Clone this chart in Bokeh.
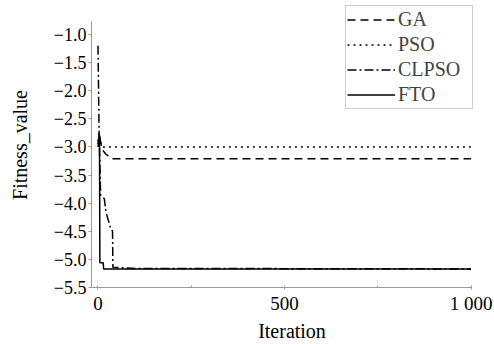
from bokeh.plotting import figure
from bokeh.models import Range1d, FixedTicker, Legend, LegendItem
from bokeh.embed import file_html
from bokeh.resources import INLINE

# Data
ga_x = [0, 4, 10, 20, 37, 1000]
ga_y = [-2.95, -2.78, -3.03, -3.12, -3.21, -3.21]

pso_x = [0, 3, 10, 1000]
pso_y = [-2.9, -2.75, -3.0, -3.0]

clpso_x = [0, 3, 7, 17, 21, 34, 39, 40, 100, 1000]
clpso_y = [-1.2, -2.75, -3.85, -3.92, -4.15, -4.45, -4.5, -5.14, -5.16, -5.17]

fto_x = [0, 4, 5, 14, 15, 1000]
fto_y = [-3.0, -2.78, -5.06, -5.06, -5.17, -5.17]

x_ticks = [0, 500, 1000]
x_minor_ticks = [250, 750]
x_tick_labels = {1000: "1 000"}
y_ticks = [-1.0, -1.5, -2.0, -2.5, -3.0, -3.5, -4.0, -4.5, -5.0, -5.5]
y_tick_labels = {t: ("%.1f" % t).replace("-", "\u2212") for t in y_ticks}

FONT = "Liberation Serif"

p = figure(width=494, height=344, output_backend="svg", toolbar_location=None,
           x_range=Range1d(-17.4, 1057.6), y_range=Range1d(-5.5, -0.43),
           min_border_left=91, min_border_right=2, min_border_top=2, min_border_bottom=57)
p.outline_line_color = None
p.xgrid.visible = False
p.ygrid.visible = False
p.background_fill_color = "white"

r_ga = p.line(ga_x, ga_y, line_color="black", line_width=1.5, line_dash="8 5")
r_pso = p.line(pso_x, pso_y, line_color="black", line_width=1.5, line_dash="2 4")
r_cl = p.line(clpso_x, clpso_y, line_color="black", line_width=1.5, line_dash="9 3 2 3")
r_fto = p.line(fto_x, fto_y, line_color="black", line_width=1.5)

for ax in (p.xaxis[0], p.yaxis[0]):
    ax.axis_line_color = "#9a9a9a"
    ax.major_tick_line_color = "#9a9a9a"
    ax.minor_tick_line_color = "#9a9a9a"
    ax.major_label_text_font = FONT
    ax.major_label_text_color = "black"
    ax.axis_label_text_font = FONT
    ax.axis_label_text_font_size = "20px"
    ax.axis_label_text_font_style = "normal"
    ax.axis_label_text_color = "black"

p.xaxis.bounds = (-17.4, 1000)
p.xaxis.ticker = FixedTicker(ticks=x_ticks, minor_ticks=x_minor_ticks)
p.xaxis.major_label_overrides = x_tick_labels
p.xaxis.major_label_text_font_size = "19px"
p.xaxis.axis_label = "Iteration"
p.xaxis.major_tick_in = 2
p.xaxis.major_tick_out = 2
p.xaxis.minor_tick_in = 2
p.xaxis.minor_tick_out = 0
p.xaxis.major_label_standoff = 3
p.xaxis.axis_label_standoff = 3

p.yaxis.bounds = (-5.5, -0.76)
p.yaxis.ticker = FixedTicker(ticks=y_ticks, minor_ticks=[])
p.yaxis.major_label_overrides = y_tick_labels
p.yaxis.major_label_text_font_size = "18px"
p.yaxis.axis_label = "Fitness_value"
p.yaxis.major_tick_in = 0
p.yaxis.major_tick_out = 3
p.yaxis.major_label_standoff = 2
p.yaxis.axis_label_standoff = 20

legend = Legend(items=[
    LegendItem(label="GA", renderers=[r_ga]),
    LegendItem(label="PSO", renderers=[r_pso]),
    LegendItem(label="CLPSO", renderers=[r_cl]),
    LegendItem(label="FTO", renderers=[r_fto]),
], location=(254, 178))
legend.label_text_font = FONT
legend.label_text_font_size = "20px"
legend.label_height = 25
legend.label_width = 73
legend.glyph_height = 25
legend.glyph_width = 48
legend.label_standoff = 3
legend.spacing = 0
legend.padding = 1
legend.margin = 0
legend.border_line_color = "#9a9a9a"
legend.border_line_width = 1
legend.background_fill_alpha = 1
p.add_layout(legend, "center")

open("out.html", "w").write(file_html(p, INLINE))
